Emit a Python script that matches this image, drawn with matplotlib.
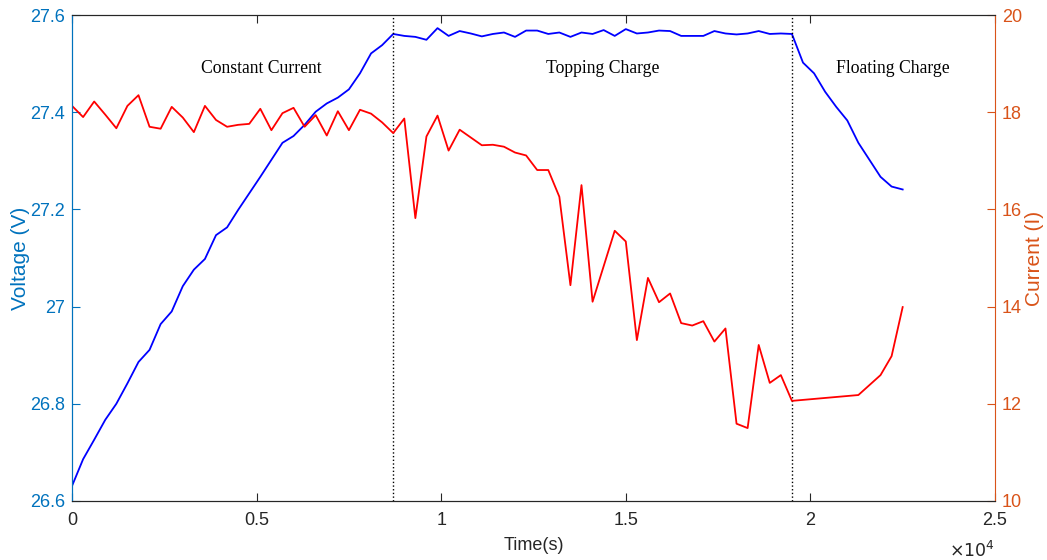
import matplotlib
matplotlib.use('Agg')
import matplotlib.pyplot as plt
from matplotlib.ticker import FuncFormatter

plt.rcParams['font.family'] = ['Liberation Sans', 'DejaVu Sans']

# voltage samples (s, V)
t_volt = [0, 300, 600, 900, 1200, 1500, 1800, 2100, 2400, 2700, 3000, 3300, 3600,
          3900, 4200, 4500, 4800, 5100, 5400, 5700, 6000, 6300, 6600, 6900, 7200,
          7500, 7800, 8100, 8400, 8700, 9000, 9300, 9600, 9900, 10200, 10500, 10800,
          11100, 11400, 11700, 12000, 12300, 12600, 12900, 13200, 13500, 13800,
          14100, 14400, 14700, 15000, 15300, 15600, 15900, 16200, 16500, 16800,
          17100, 17400, 17700, 18000, 18300, 18600, 18900, 19200, 19500, 19800,
          20100, 20400, 20700, 21000, 21300, 21600, 21900, 22200, 22500]
voltage = [26.631, 26.686, 26.726, 26.767, 26.800, 26.842, 26.886, 26.911, 26.964,
           26.990, 27.042, 27.076, 27.098, 27.147, 27.163, 27.199, 27.233, 27.267,
           27.302, 27.337, 27.351, 27.374, 27.401, 27.418, 27.430, 27.447, 27.480,
           27.521, 27.538, 27.561, 27.557, 27.555, 27.549, 27.573, 27.557, 27.567,
           27.562, 27.556, 27.561, 27.564, 27.555, 27.568, 27.568, 27.561, 27.564,
           27.555, 27.564, 27.561, 27.569, 27.557, 27.571, 27.562, 27.564, 27.568,
           27.567, 27.557, 27.557, 27.557, 27.567, 27.562, 27.560, 27.562, 27.567,
           27.561, 27.562, 27.561, 27.502, 27.480, 27.442, 27.411, 27.383, 27.337,
           27.302, 27.267, 27.247, 27.241]

# current samples (s, A)
t_curr = [0, 300, 600, 900, 1200, 1500, 1800, 2100, 2400, 2700, 3000, 3300, 3600,
          3900, 4200, 4500, 4800, 5100, 5400, 5700, 6000, 6300, 6600, 6900, 7200,
          7500, 7800, 8100, 8400, 8700, 9000, 9300, 9600, 9900, 10200, 10500, 10800,
          11100, 11400, 11700, 12000, 12300, 12600, 12900, 13200, 13500, 13800,
          14100, 14400, 14700, 15000, 15300, 15600, 15900, 16200, 16500, 16800,
          17100, 17400, 17700, 18000, 18300, 18600, 18900, 19200, 19500, 21300,
          21900, 22200, 22500]
current = [18.13, 17.90, 18.22, 17.95, 17.67, 18.13, 18.35, 17.70, 17.66, 18.11,
           17.89, 17.59, 18.13, 17.84, 17.70, 17.74, 17.76, 18.07, 17.63, 17.98,
           18.09, 17.70, 17.94, 17.52, 18.02, 17.63, 18.05, 17.97, 17.79, 17.57,
           17.87, 15.82, 17.50, 17.93, 17.21, 17.64, 17.48, 17.32, 17.33, 17.29,
           17.17, 17.11, 16.81, 16.81, 16.26, 14.44, 16.50, 14.10, 14.83, 15.56,
           15.34, 13.31, 14.59, 14.09, 14.27, 13.66, 13.61, 13.70, 13.28, 13.55,
           11.59, 11.50, 13.21, 12.43, 12.59, 12.06, 12.18, 12.59, 12.98, 13.99]

stage_bounds = [8700, 19500]
stage_names = ['Constant Current', 'Topping Charge', 'Floating Charge']
stage_pos = [5130, 14380, 22230]

left_col = '#0072BD'
right_col = '#D95319'
axis_col = '#262626'

fig = plt.figure(figsize=(10.47, 5.6), dpi=100)
ax = fig.add_axes([0.0688, 0.1054, 0.8815, 0.8678])
ax2 = ax.twinx()

ax.plot(t_volt, voltage, color='#0000FF', lw=1.3)
ax2.plot(t_curr, current, color='#FF0000', lw=1.3)

for b in stage_bounds:
    ax.axvline(b, color='black', ls=':', lw=1.0)

for name, x in zip(stage_names, stage_pos):
    ax.text(x, 27.489, name, ha='center', va='center', fontsize=12.7,
            family=['Liberation Serif', 'DejaVu Serif'], color='black')

ax.set_xlim(0, 25000)
ax.set_ylim(26.6, 27.6)
ax2.set_ylim(10, 20)

ax.set_xticks([0, 5000, 10000, 15000, 20000, 25000])
ax.xaxis.set_major_formatter(FuncFormatter(lambda v, p: '%g' % (v / 1e4)))
ax.set_yticks([26.6, 26.8, 27.0, 27.2, 27.4, 27.6])
ax.yaxis.set_major_formatter(FuncFormatter(lambda v, p: '%g' % round(v, 1)))
ax2.set_yticks([10, 12, 14, 16, 18, 20])

ax.tick_params(axis='x', direction='in', top=True, length=6, width=0.8,
               colors=axis_col, labelsize=13, pad=8)
ax.tick_params(axis='y', direction='in', length=6, width=0.8,
               colors=left_col, labelsize=13, pad=5)
ax2.tick_params(axis='y', direction='in', length=6, width=0.8,
                colors=right_col, labelsize=13, pad=5)

for s in ['top', 'bottom']:
    ax.spines[s].set_color(axis_col)
    ax2.spines[s].set_color(axis_col)
ax.spines['left'].set_color(left_col)
ax2.spines['left'].set_color(left_col)
ax2.spines['right'].set_color(right_col)
ax.spines['right'].set_visible(False)

ax.set_xlabel('Time(s)', fontsize=13, color=axis_col, labelpad=6)
ax.set_ylabel('Voltage (V)', fontsize=15, color=left_col, labelpad=0)
ax2.set_ylabel('Current (I)', fontsize=15, color=right_col, labelpad=2)

ax.text(1.0, -0.1, r'$\times10^{4}$', transform=ax.transAxes, ha='right',
        va='center', fontsize=12.5, color=axis_col)

fig.savefig('out.png', dpi=100, facecolor='white')
